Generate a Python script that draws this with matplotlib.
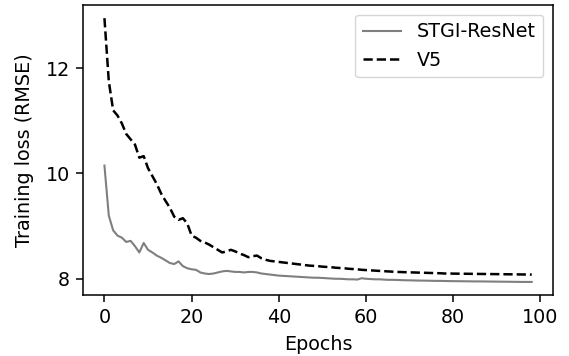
import matplotlib
matplotlib.use("Agg")
import matplotlib.pyplot as plt
import numpy as np

epochs = list(range(99))

stgi_resnet = [
    10.15, 9.20, 8.92, 8.82, 8.78, 8.70, 8.72, 8.62, 8.50, 8.68,
    8.55, 8.50, 8.44, 8.40, 8.35, 8.30, 8.28, 8.33, 8.24, 8.20,
    8.18, 8.17, 8.12, 8.10, 8.09, 8.10, 8.12, 8.14, 8.15, 8.14,
    8.13, 8.13, 8.12, 8.13, 8.13, 8.12, 8.10, 8.09, 8.08, 8.07,
    8.06, 8.055, 8.05, 8.045, 8.04, 8.035, 8.03, 8.025, 8.02, 8.02,
    8.015, 8.01, 8.005, 8.00, 8.00, 7.995, 7.99, 7.99, 7.985, 8.01,
    8.00, 7.995, 7.99, 7.99, 7.985, 7.98, 7.98, 7.978, 7.975, 7.972,
    7.97, 7.968, 7.966, 7.965, 7.964, 7.962, 7.96, 7.96, 7.958, 7.956,
    7.955, 7.954, 7.953, 7.952, 7.951, 7.95, 7.95, 7.949, 7.948, 7.947,
    7.946, 7.945, 7.944, 7.943, 7.942, 7.941, 7.94, 7.94, 7.94,
]

v5 = [
    12.95, 11.75, 11.20, 11.10, 10.95, 10.75, 10.65, 10.55, 10.30, 10.33,
    10.10, 9.95, 9.80, 9.62, 9.48, 9.35, 9.18, 9.12, 9.15, 9.05,
    8.82, 8.78, 8.72, 8.69, 8.65, 8.60, 8.55, 8.50, 8.52, 8.55,
    8.52, 8.48, 8.45, 8.41, 8.43, 8.44, 8.39, 8.36, 8.34, 8.33,
    8.32, 8.31, 8.30, 8.29, 8.28, 8.27, 8.26, 8.25, 8.245, 8.24,
    8.23, 8.225, 8.22, 8.21, 8.205, 8.20, 8.19, 8.185, 8.18, 8.17,
    8.165, 8.16, 8.155, 8.15, 8.145, 8.14, 8.135, 8.13, 8.128, 8.125,
    8.122, 8.12, 8.117, 8.115, 8.112, 8.11, 8.107, 8.105, 8.10, 8.10,
    8.098, 8.097, 8.096, 8.095, 8.094, 8.093, 8.092, 8.091, 8.09, 8.089,
    8.088, 8.087, 8.086, 8.085, 8.084, 8.083, 8.082, 8.081, 8.08,
]

plt.rcParams['font.family'] = ['DejaVu Sans']
plt.rcParams['font.size'] = 13.8
plt.rcParams['axes.linewidth'] = 1.1
for a in ('xtick', 'ytick'):
    plt.rcParams[a + '.major.size'] = 4.8
    plt.rcParams[a + '.major.width'] = 1.1
    plt.rcParams[a + '.major.pad'] = 4.8

fig = plt.figure(figsize=(5.69, 3.56), dpi=100)
ax = fig.add_axes([0.146, 0.171, 0.826, 0.815])
ax.plot(epochs, stgi_resnet, color='#7f7f7f', linestyle='-', linewidth=1.5, label='STGI-ResNet')
ax.plot(epochs, v5, color='black', linestyle='--', linewidth=1.8, label='V5')
ax.set_xlabel('Epochs', labelpad=5.5)
ax.set_ylabel('Training loss (RMSE)', labelpad=8)
ax.set_xticks([0, 20, 40, 60, 80, 100])
ax.set_yticks([8, 10, 12])
ax.legend(loc='upper right')
fig.savefig('out.png', dpi=100)
